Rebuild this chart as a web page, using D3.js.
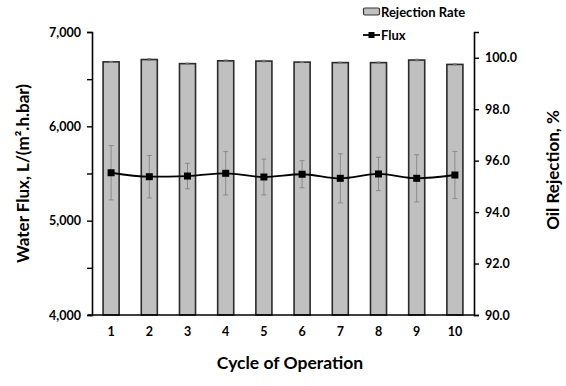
<!DOCTYPE html>
<html>
<head>
<meta charset="utf-8">
<script src="https://cdn.jsdelivr.net/npm/d3@7"></script>
<style>
  html, body { margin: 0; padding: 0; background: #fff; }
  svg { display: block; font-family: Lato, "Open Sans", sans-serif; font-weight: bold; }
</style>
</head>
<body>
<div id="chart"></div>
<script>
const cycles = ['1', '2', '3', '4', '5', '6', '7', '8', '9', '10'];
const rejection = [99.84, 99.93, 99.77, 99.88, 99.87, 99.83, 99.81, 99.81, 99.91, 99.74];
const rejectionErr = [0.02, 0.03, 0.02, 0.03, 0.03, 0.02, 0.02, 0.02, 0.03, 0.02];
const flux = [5508, 5466, 5473, 5502, 5463, 5492, 5449, 5495, 5449, 5484];
const fluxErr = [288, 225, 135, 230, 190, 144, 260, 177, 250, 250];
const fluxTicks = [4000, 4500, 5000, 5500, 6000, 6500, 7000];
const rejTicks = [90, 92, 94, 96, 98, 100];

const W = 566, H = 386;
const m = {top: 32, right: 92, bottom: 71, left: 92};

const svg = d3.select('#chart').append('svg').attr('width', W).attr('height', H);

const x = d3.scaleBand().domain(cycles).range([m.left, W - m.right]).paddingInner(0.58).paddingOuter(0.29);
const yFlux = d3.scaleLinear().domain([4000, 7000]).range([H - m.bottom, m.top]);
const yRej = d3.scaleLinear().domain([90, 101]).range([H - m.bottom, m.top]);

// Bars: oil rejection on the right axis.
svg.append('g').selectAll('rect')
  .data(rejection)
  .join('rect')
  .attr('x', (d, i) => x(cycles[i]))
  .attr('y', d => yRej(d))
  .attr('width', x.bandwidth())
  .attr('height', d => yRej(90) - yRej(d))
  .attr('fill', '#c0c0c0')
  .attr('stroke', '#2b2b2b')
  .attr('stroke-width', 1.6);

// Tiny error bars on the rejection bars.
svg.append('g').selectAll('path')
  .data(rejection)
  .join('path')
  .attr('d', (d, i) => {
    const cx = x(cycles[i]) + x.bandwidth() / 2;
    const t = yRej(d + rejectionErr[i]), b = yRej(d - rejectionErr[i]);
    return `M${cx - 2},${t}H${cx + 2}M${cx},${t}V${b}M${cx - 2},${b}H${cx + 2}`;
  })
  .attr('stroke', '#777').attr('stroke-width', 1).attr('fill', 'none');

// Flux error bars.
svg.append('g').selectAll('path')
  .data(flux)
  .join('path')
  .attr('d', (d, i) => {
    const cx = x(cycles[i]) + x.bandwidth() / 2;
    const t = yFlux(d + fluxErr[i]), b = yFlux(d - fluxErr[i]);
    return `M${cx - 2.5},${t}H${cx + 2.5}M${cx},${t}V${b}M${cx - 2.5},${b}H${cx + 2.5}`;
  })
  .attr('stroke', '#8a8a8a').attr('stroke-width', 1).attr('fill', 'none');

// Flux line with square markers.
const line = d3.line()
  .x((d, i) => x(cycles[i]) + x.bandwidth() / 2)
  .y(d => yFlux(d))
  .curve(d3.curveMonotoneX);

svg.append('path')
  .datum(flux)
  .attr('d', line)
  .attr('fill', 'none')
  .attr('stroke', '#000')
  .attr('stroke-width', 1.8);

svg.append('g').selectAll('rect')
  .data(flux)
  .join('rect')
  .attr('x', (d, i) => x(cycles[i]) + x.bandwidth() / 2 - 3.5)
  .attr('y', d => yFlux(d) - 3.5)
  .attr('width', 7).attr('height', 7)
  .attr('fill', '#000');

// Axes.
const leftAxis = d3.axisLeft(yFlux).tickValues(fluxTicks).tickSize(5).tickPadding(6)
  .tickFormat(d => d % 1000 === 0 ? d3.format(',')(d) : '');
const gl = svg.append('g').attr('transform', `translate(${m.left},0)`).call(leftAxis);

const rightAxis = d3.axisRight(yRej).tickValues(rejTicks).tickSize(5).tickPadding(6)
  .tickFormat(d3.format('.1f'));
const gr = svg.append('g').attr('transform', `translate(${W - m.right},0)`).call(rightAxis);

const bottomAxis = d3.axisBottom(x).tickSize(0).tickPadding(12);
const gb = svg.append('g').attr('transform', `translate(0,${H - m.bottom})`).call(bottomAxis);

[gl, gr, gb].forEach(g => {
  g.select('.domain').attr('stroke', '#000').attr('stroke-width', 1.6);
  g.selectAll('.tick line').attr('stroke', '#000').attr('stroke-width', 1.4);
  g.selectAll('.tick text').attr('fill', '#000').style('font-size', '12.5px').style('font-weight', 'bold')
    .style('font-family', 'Lato, "Open Sans", sans-serif');
});
gb.select('.domain').attr('d', `M${m.left - 4},0H${W - m.right}`);

// Axis titles.
svg.append('text')
  .attr('transform', `translate(29,${(m.top + H - m.bottom) / 2}) rotate(-90)`)
  .attr('text-anchor', 'middle')
  .style('font-size', '17px')
  .text('Water Flux, L/(m².h.bar)');

svg.append('text')
  .attr('transform', `translate(559,170) rotate(-90)`)
  .attr('text-anchor', 'middle')
  .style('font-size', '17px')
  .text('Oil Rejection, %');

svg.append('text')
  .attr('x', 290).attr('y', 369)
  .attr('text-anchor', 'middle')
  .style('font-size', '17.5px')
  .text('Cycle of Operation');

// Legend.
const legend = svg.append('g').attr('transform', 'translate(363,0)');
legend.append('rect')
  .attr('x', 0.5).attr('y', 8).attr('width', 16).attr('height', 7).attr('rx', 1.5)
  .attr('fill', '#c0c0c0').attr('stroke', '#333').attr('stroke-width', 1.2);
legend.append('text').attr('x', 18).attr('y', 16.5).style('font-size', '13px').text('Rejection Rate');
legend.append('line').attr('x1', 0).attr('x2', 17).attr('y1', 35).attr('y2', 35)
  .attr('stroke', '#000').attr('stroke-width', 1.8);
legend.append('rect').attr('x', 5.5).attr('y', 32).attr('width', 6).attr('height', 6).attr('fill', '#000');
legend.append('text').attr('x', 18).attr('y', 40).style('font-size', '13px').text('Flux');
</script>
</body>
</html>
